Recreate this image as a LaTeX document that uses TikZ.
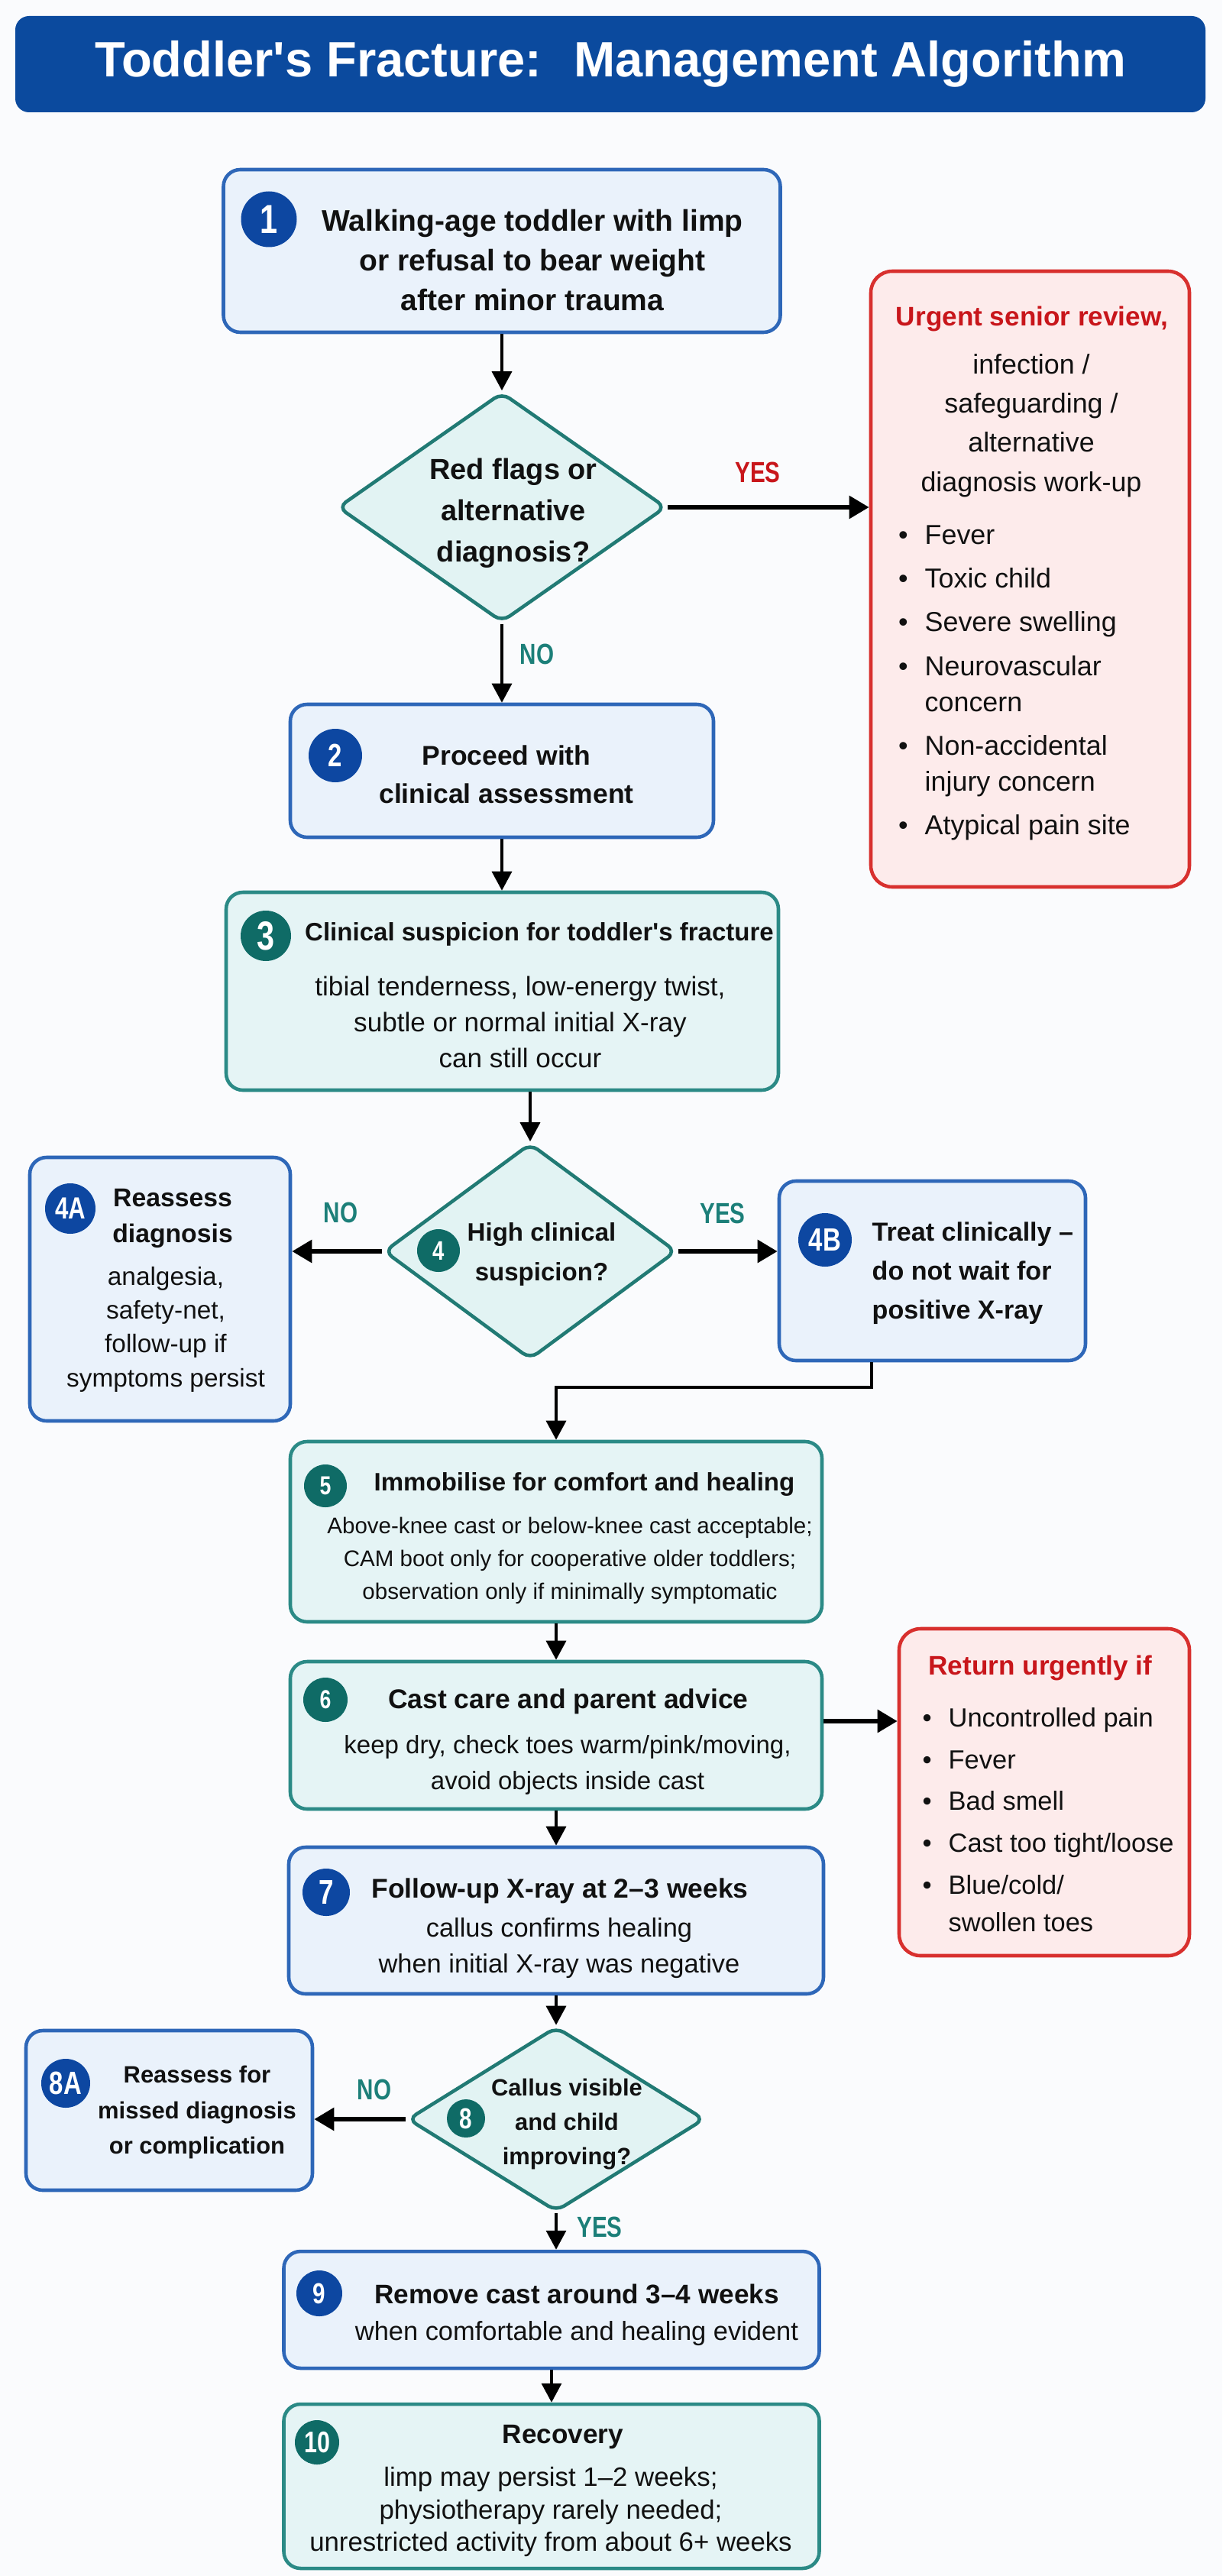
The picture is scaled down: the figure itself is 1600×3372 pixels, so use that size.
\documentclass[tikz,border=0pt]{standalone}
\usepackage{fontspec}
\setmainfont{Liberation Sans}
\newfontfamily\narrowfont[FakeStretch=0.78]{Liberation Sans}
\usetikzlibrary{shapes.geometric,arrows.meta}

\definecolor{headblue}{HTML}{0B4A9E}
\definecolor{numblue}{HTML}{0D47A1}
\definecolor{lineblue}{HTML}{2E67B8}
\definecolor{fillblue}{HTML}{EAF2FB}
\definecolor{numteal}{HTML}{0F6B66}
\definecolor{lineteal}{HTML}{2B8A86}
\definecolor{fillteal}{HTML}{E5F4F5}
\definecolor{diateal}{HTML}{217A74}
\definecolor{diafill}{HTML}{E2F3F3}
\definecolor{redline}{HTML}{D8302E}
\definecolor{redfill}{HTML}{FDEBEB}
\definecolor{redtext}{HTML}{C8161B}
\definecolor{labteal}{HTML}{1C7F79}
\definecolor{ink}{HTML}{111111}
\definecolor{paper}{HTML}{FAFBFD}

\newcommand\setfs[2]{\fontsize{#1pt}{#2pt}\selectfont}
\newcommand\bul{\llap{\textbullet\hspace{2.2mm}}}

\tikzset{
  headbar/.style={fill=headblue, rounded corners=1.8mm, text=white},
  bluebox/.style={draw=lineblue, fill=fillblue, line width=1.3pt, rounded corners=2.2mm},
  tealbox/.style={draw=lineteal, fill=fillteal, line width=1.3pt, rounded corners=2.2mm},
  redbox/.style={draw=redline, fill=redfill, line width=1.3pt, rounded corners=2.8mm},
  decision/.style={diamond, draw=diateal, fill=diafill, line width=1.3pt, inner sep=0pt, rounded corners=1.2mm},
  badge/.style={circle, inner sep=0pt, text=white},
  txt/.style={align=center, inner sep=0pt, text=ink},
  lab/.style={inner sep=0pt, font=\narrowfont\bfseries\setfs{10.8}{10.8}},
  arr/.style={-{Triangle[length=2.5mm,width=2.6mm]}, line width=1pt},
  harr/.style={-{Triangle[length=2.6mm,width=2.9mm]}, line width=1.7pt}
}

\begin{document}
\begin{tikzpicture}[x=0.1mm, y=-0.1mm]
\fill[paper] (0,0) rectangle (1600,3372);
\useasboundingbox (0,0) rectangle (1600,3372);

% title
\node[headbar, minimum width=155.8mm, minimum height=12.6mm,
      font=\bfseries\setfs{18.5}{22}] (head) at (799,84)
      {Toddler\textquotesingle s Fracture:~ Management Algorithm};

% boxes and decisions
\node[bluebox, minimum width=72.9mm, minimum height=21.3mm] (box1) at (657,328.5) {};
\node[decision, minimum width=43mm, minimum height=30.1mm] (dia1) at (657,664) {};
\node[redbox, minimum width=41.7mm, minimum height=80.6mm] (red1) at (1348.5,758) {};
\node[bluebox, minimum width=55.4mm, minimum height=17.4mm] (box2) at (657,1009) {};
\node[tealbox, minimum width=72.3mm, minimum height=25.9mm] (box3) at (657.5,1297.5) {};
\node[decision, minimum width=38.3mm, minimum height=28.3mm] (dia4) at (694,1638) {};
\node[bluebox, minimum width=34.1mm, minimum height=34.5mm] (box4A) at (209.5,1687.5) {};
\node[bluebox, minimum width=40.1mm, minimum height=23.5mm] (box4B) at (1220.5,1663.5) {};
\node[tealbox, minimum width=69.6mm, minimum height=23.6mm] (box5) at (728,2005) {};
\node[tealbox, minimum width=69.6mm, minimum height=19.3mm] (box6) at (728,2271.5) {};
\node[redbox, minimum width=38mm, minimum height=42.8mm] (red2) at (1367,2346) {};
\node[bluebox, minimum width=70mm, minimum height=19.2mm] (box7) at (728,2514) {};
\node[decision, minimum width=38.9mm, minimum height=24.2mm] (dia8) at (728,2774) {};
\node[bluebox, minimum width=37.5mm, minimum height=20.9mm] (box8A) at (221.5,2762.5) {};
\node[bluebox, minimum width=70.1mm, minimum height=15.3mm] (box9) at (722,3023.5) {};
\node[tealbox, minimum width=70.1mm, minimum height=21.5mm] (box10) at (722,3254.5) {};

% texts
\node[txt, font=\bfseries\setfs{11.1}{14.8}] (t1) at (697,341)
  {Walking-age toddler with limp\\or refusal to bear weight\\after minor trauma};
\node[txt, font=\bfseries\setfs{10.8}{15.4}] (td1) at (672,672)
  {Red flags or\\alternative\\diagnosis?};
\node[txt, font=\bfseries\setfs{10}{10}, text=redtext] (t1r) at (1351,417) {Urgent senior review,};
\node[txt, font=\setfs{10.2}{14.6}] (t1rb) at (1350,557)
  {infection /\\safeguarding /\\alternative\\diagnosis work-up};
\node[txt, align=left, anchor=west, font=\setfs{10.2}{13.4}] (t1rl) at (1210,894)
  {\bul Fever\\[1mm]\bul Toxic child\\[1mm]\bul Severe swelling\\[1mm]\bul Neurovascular\\concern\\[1mm]\bul Non-accidental\\injury concern\\[1mm]\bul Atypical pain site};
\node[txt, font=\bfseries\setfs{10.1}{14.2}] (t2) at (663,1014)
  {Proceed with\\clinical assessment};
\node[txt, font=\bfseries\setfs{9.4}{9.4}] (t3a) at (706,1223)
  {Clinical suspicion for toddler\textquotesingle s fracture};
\node[txt, font=\setfs{10}{13.4}] (t3b) at (681,1338)
  {tibial tenderness, low-energy twist,\\subtle or normal initial X-ray\\can still occur};
\node[txt, font=\bfseries\setfs{9.4}{14.8}] (td4) at (709,1642)
  {High clinical\\suspicion?};
\node[txt, font=\bfseries\setfs{9.6}{13.4}] (t4aa) at (226,1595)
  {Reassess\\diagnosis};
\node[txt, font=\setfs{9.5}{12.6}] (t4ab) at (217,1740)
  {analgesia,\\safety-net,\\follow-up if\\symptoms persist};
\node[txt, align=left, anchor=west, font=\bfseries\setfs{9.7}{14.5}] (t4b) at (1141,1667)
  {Treat clinically --\\do not wait for\\positive X-ray};
\node[txt, font=\bfseries\setfs{9.4}{9.4}] (t5a) at (765,1943)
  {Immobilise for comfort and healing};
\node[txt, font=\setfs{8.4}{12.2}] (t5b) at (746,2043)
  {Above-knee cast or below-knee cast acceptable;\\CAM boot only for cooperative older toddlers;\\observation only if minimally symptomatic};
\node[txt, font=\bfseries\setfs{10.1}{10.1}] (t6a) at (744,2227)
  {Cast care and parent advice};
\node[txt, font=\setfs{9.4}{13.4}] (t6b) at (743,2310)
  {keep dry, check toes warm/pink/moving,\\avoid objects inside cast};
\node[txt, font=\bfseries\setfs{10}{10}, text=redtext] (t6r) at (1362,2183) {Return urgently if};
\node[txt, align=left, anchor=west, font=\setfs{9.8}{13.9}] (t6l) at (1241,2382)
  {\bul Uncontrolled pain\\[0.6mm]\bul Fever\\[0.6mm]\bul Bad smell\\[0.6mm]\bul Cast too tight/loose\\[0.6mm]\bul Blue/cold/\\swollen toes};
\node[txt, font=\bfseries\setfs{10.1}{10.1}] (t7a) at (733,2475)
  {Follow-up X-ray at 2--3 weeks};
\node[txt, font=\setfs{9.8}{13.4}] (t7b) at (732,2550)
  {callus confirms healing\\when initial X-ray was negative};
\node[txt, font=\bfseries\setfs{8.8}{12.8}] (td8) at (742,2781)
  {Callus visible\\and child\\improving?};
\node[txt, font=\bfseries\setfs{8.8}{13.1}] (t8a) at (258,2765)
  {Reassess for\\missed diagnosis\\or complication};
\node[txt, font=\bfseries\setfs{10}{10}] (t9a) at (755,3003)
  {Remove cast around 3--4 weeks};
\node[txt, font=\setfs{9.8}{9.8}] (t9b) at (755,3055)
  {when comfortable and healing evident};
\node[txt, font=\bfseries\setfs{10}{10}] (t10a) at (737,3190) {Recovery};
\node[txt, font=\setfs{9.9}{12.2}] (t10b) at (721,3288)
  {limp may persist 1--2 weeks;\\physiotherapy rarely needed;\\unrestricted activity from about 6+ weeks};

% numbered badges
\def \Badges {
   b1/1/352/287/7.3/15.1/numblue,
   b2/2/439/989/7.0/12/numblue,
   b3/3/348/1225/6.6/15.1/numteal,
   b4a/4A/92/1582/6.6/11.4/numblue,
   b4/4/574/1637/5.6/10/numteal,
   b4b/4B/1080/1623/7.0/12/numblue,
   b5/5/426/1945/5.6/9.7/numteal,
   b6/6/426/2225/5.8/9.7/numteal,
   b7/7/427/2477/6.2/12.8/numblue,
   b8a/8A/86/2727/6.4/12/numblue,
   b8/8/610/2773/5.0/10.8/numteal,
   b9/9/418/3002/6.0/10.8/numblue,
   b10/10/415/3197/5.8/11.1/numteal}
\foreach \n / \t / \x / \y / \d / \f / \c in \Badges {
   \node[badge, fill=\c, minimum size=\d mm, font=\narrowfont\bfseries\setfs{\f}{\f}] (\n) at (\x, \y) {\t};
}

% branch labels
\node[lab, text=redtext] (yes1) at (992,618) {YES};
\node[lab, text=labteal] (no1) at (703,856) {NO};
\node[lab, text=labteal] (no4) at (446,1587) {NO};
\node[lab, text=labteal] (yes4) at (946,1588) {YES};
\node[lab, text=labteal] (no8) at (490,2735) {NO};
\node[lab, text=labteal] (yes8) at (785,2915) {YES};

% main line
\def \Edges {
   box1/dia1,
   dia1/box2,
   box2/box3,
   box5/box6,
   box6/box7,
   box7/dia8,
   dia8/box9,
   box9/box10}
\foreach \u / \v in \Edges {
   \draw[arr] (\u.south) -- (\u.south |- \v.north);
}
\draw[arr] (box3.south -| dia4.north) -- (dia4.north);
\coordinate (elbow) at (728,1816);
\draw[arr] (box4B.south -| t4b.west) |- (elbow) -- (box5.north);

% side branches
\draw[harr] (dia1.east) -- (dia1.east -| red1.west);
\draw[harr] (dia4.west) -- (dia4.west -| box4A.east);
\draw[harr] (dia4.east) -- (dia4.east -| box4B.west);
\draw[harr] ([yshift=1.85mm]box6.east) -- ([yshift=1.85mm]box6.east -| red2.west);
\draw[harr] (dia8.west) -- (dia8.west -| box8A.east);
\end{tikzpicture}
\end{document}
